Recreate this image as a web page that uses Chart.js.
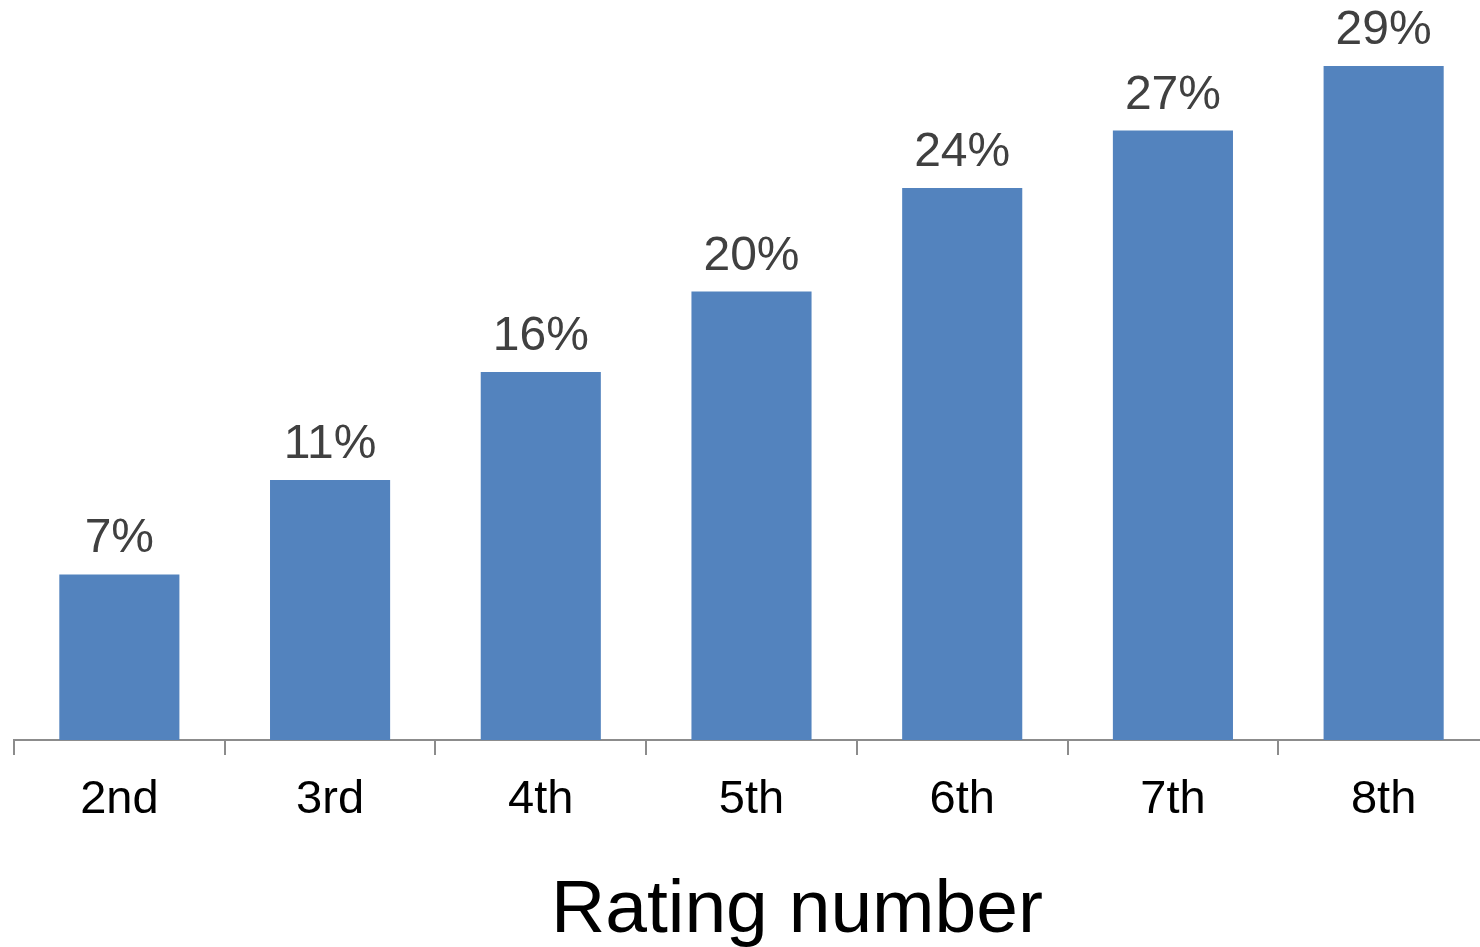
<!DOCTYPE html>
<html>
<head>
<meta charset="utf-8">
<script src="https://cdn.jsdelivr.net/npm/chart.js@4.4.1/dist/chart.umd.min.js"></script>
<style>
  html, body { margin: 0; padding: 0; background: #fff; overflow: hidden; }
  #wrap { width: 1480px; height: 947px; overflow: hidden; }
  #chart { display: block; }
</style>
</head>
<body>
<div id="wrap"><canvas id="chart" width="1500" height="947"></canvas></div>
<script>
const categories = ['2nd', '3rd', '4th', '5th', '6th', '7th', '8th'];
const shares = [7.2, 11.3, 16.0, 19.5, 24.0, 26.5, 29.3];
const axisTitle = 'Rating number';

// value labels above the bars, rounded like the source
const barLabels = {
    id: 'barLabels',
    afterDatasetsDraw(chart) {
        const ctx = chart.ctx;
        const meta = chart.getDatasetMeta(0);
        ctx.save();
        ctx.font = '48px "Liberation Sans", Arial, sans-serif';
        ctx.fillStyle = '#404040';
        ctx.textAlign = 'center';
        ctx.textBaseline = 'alphabetic';
        meta.data.forEach((bar, i) => {
            ctx.fillText(Math.round(shares[i]) + '%', bar.x, bar.y - 22);
        });
        ctx.restore();
    }
};

// axis title, sits a bit right of the plot centre in the original
const bottomTitle = {
    id: 'bottomTitle',
    afterDraw(chart) {
        const ctx = chart.ctx;
        ctx.save();
        ctx.font = '75px "Liberation Sans", Arial, sans-serif';
        ctx.fillStyle = '#000';
        ctx.textAlign = 'center';
        ctx.textBaseline = 'alphabetic';
        ctx.fillText(axisTitle, chart.chartArea.left + 783, 932);
        ctx.restore();
    }
};

new Chart(document.getElementById('chart'), {
    type: 'bar',
    data: {
        labels: categories,
        datasets: [{
            data: shares,
            backgroundColor: '#5383BE',
            borderWidth: 0,
            categoryPercentage: 1,
            barPercentage: 0.57
        }]
    },
    options: {
        responsive: false,
        animation: false,
        layout: { padding: { left: 14, right: 11, top: 4, bottom: 0 } },
        plugins: {
            legend: { display: false },
            tooltip: { enabled: false },
            title: { display: false }
        },
        scales: {
            x: {
                afterFit(scale) { scale.height = 207; },
                border: { display: true, color: '#8c8c8c', width: 2 },
                grid: {
                    offset: true,
                    drawOnChartArea: false,
                    drawTicks: true,
                    tickLength: 15,
                    color: '#8c8c8c',
                    lineWidth: 2
                },
                ticks: {
                    color: '#000',
                    padding: 17,
                    font: { family: '"Liberation Sans", Arial, sans-serif', size: 47 }
                }
            },
            y: {
                display: false,
                min: 0,
                max: 32
            }
        }
    },
    plugins: [barLabels, bottomTitle]
});
</script>
</body>
</html>
